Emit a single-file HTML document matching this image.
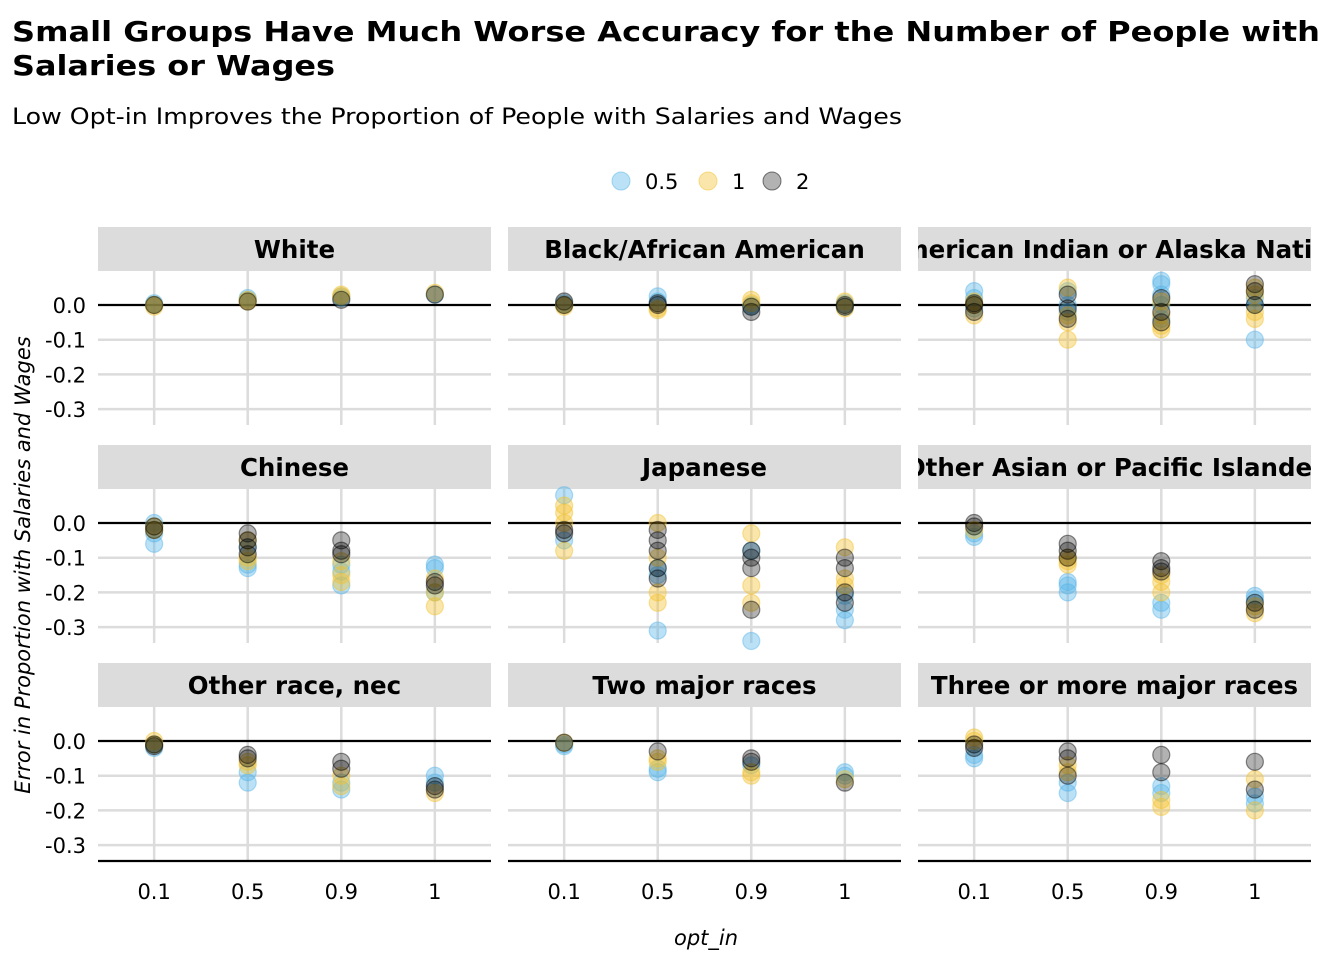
<!DOCTYPE html>
<html><head><meta charset="utf-8"><style>
body{margin:0;background:#fff;}
svg text{font-family:"DejaVu Sans","Liberation Sans",sans-serif;}
</style></head><body>
<svg id="c" width="1344" height="960" xmlns="http://www.w3.org/2000/svg">
<text x="12" y="41" font-size="28" font-weight="bold" textLength="1308" lengthAdjust="spacingAndGlyphs">Small Groups Have Much Worse Accuracy for the Number of People with</text>
<text x="12" y="75" font-size="28" font-weight="bold" textLength="323" lengthAdjust="spacingAndGlyphs">Salaries or Wages</text>
<text x="12" y="124" font-size="22" textLength="890" lengthAdjust="spacingAndGlyphs">Low Opt-in Improves the Proportion of People with Salaries and Wages</text>
<g>
<circle cx="621" cy="181" r="9" fill="#56B4E9" fill-opacity="0.4" stroke="#56B4E9" stroke-opacity="0.5"/>
<text x="645" y="189" font-size="21">0.5</text>
<circle cx="708" cy="181" r="9" fill="#F2C12E" fill-opacity="0.4" stroke="#F2C12E" stroke-opacity="0.5"/>
<text x="732" y="189" font-size="21">1</text>
<circle cx="772" cy="181" r="9" fill="#000" fill-opacity="0.3" stroke="#000" stroke-opacity="0.5"/>
<text x="796" y="189" font-size="21">2</text>
</g>
<text transform="translate(30,565) rotate(-90)" text-anchor="middle" font-size="21" font-style="italic">Error in Proportion with Salaries and Wages</text>
<text x="706" y="945" text-anchor="middle" font-size="21" font-style="italic">opt_in</text>
<g id="panels"></g>
</svg>
<script>
const facets=["White","Black/African American","American Indian or Alaska Native","Chinese","Japanese","Other Asian or Pacific Islander","Other race, nec","Two major races","Three or more major races"];
const categories=["0.1","0.5","0.9","1"];
const yTicks=[0,-0.1,-0.2,-0.3];
const yTickLabels=["0.0","-0.1","-0.2","-0.3"];
const seriesNames=["0.5","1","2"];
const blueVals=[
[[0,0.005],[0.02,0.015],[0.025,0.02],[0.03]],
[[0.005,0],[0.025,0.01],[0,-0.005],[-0.005,0.005]],
[[0.04,0.02,-0.01],[0.04,0,-0.02],[0.07,0.06,0.03,0,-0.04],[0.02,0,-0.1]],
[[-0.06,-0.03,0],[-0.13,-0.12,-0.07],[-0.18,-0.14,-0.12],[-0.12,-0.13,-0.2]],
[[0.08,-0.05],[-0.13,-0.31,-0.15],[-0.08,-0.34],[-0.25,-0.28,-0.21]],
[[-0.04,-0.03],[-0.2,-0.18,-0.17],[-0.25,-0.23],[-0.21,-0.22]],
[[-0.02,-0.01],[-0.12,-0.09],[-0.14,-0.12],[-0.1,-0.12]],
[[-0.015,-0.01],[-0.09,-0.08],[-0.07],[-0.09,-0.1]],
[[-0.04,-0.05],[-0.15,-0.12],[-0.13,-0.15],[-0.16,-0.18]]];
const yellowVals=[
[[0,-0.005],[0.01,0.015],[0.03,0.025],[0.035]],
[[0,-0.005],[-0.01,-0.015],[0.015,0.005],[0.01,-0.01]],
[[0.01,-0.03,0],[0.05,-0.05,-0.1,-0.03],[0.01,-0.03,-0.07,-0.06],[0.05,0.03,-0.02,-0.04]],
[[-0.02,-0.01],[-0.1,-0.11,-0.05],[-0.17,-0.15,-0.11],[-0.24,-0.2,-0.16]],
[[0.05,0.03,0,-0.08],[0,-0.1,-0.2,-0.23],[-0.03,-0.23,-0.18],[-0.07,-0.16,-0.18]],
[[-0.02],[-0.12,-0.1,-0.11],[-0.17,-0.2,-0.15],[-0.26,-0.24]],
[[0,-0.01],[-0.07,-0.06],[-0.13,-0.1],[-0.15]],
[[-0.005],[-0.06,-0.05],[-0.1,-0.09],[-0.11]],
[[0,0.01],[-0.09,-0.07],[-0.19,-0.17],[-0.2,-0.11]]];
const blackVals=[
[[0],[0.01],[0.015],[0.03]],
[[0.01,0],[0,0.005],[-0.02,-0.005],[0,-0.005]],
[[0,-0.02,0.005],[0.03,-0.01,-0.04],[0.02,-0.02,-0.05],[0.06,0.04,0]],
[[-0.01,-0.02],[-0.03,-0.05,-0.07,-0.09],[-0.05,-0.08,-0.09],[-0.17,-0.18]],
[[-0.02,-0.03],[-0.02,-0.05,-0.08,-0.16,-0.13],[-0.08,-0.13,-0.25,-0.1],[-0.1,-0.13,-0.2,-0.23]],
[[0,-0.01],[-0.06,-0.08,-0.1],[-0.11,-0.13,-0.14],[-0.23,-0.25]],
[[-0.01,-0.015],[-0.04,-0.05],[-0.06,-0.08],[-0.13,-0.14]],
[[-0.005],[-0.03],[-0.05,-0.06],[-0.12]],
[[-0.01,-0.02],[-0.03,-0.05,-0.1],[-0.04,-0.09],[-0.06,-0.14]]];
const NS="http://www.w3.org/2000/svg";
const root=document.getElementById('panels');
const colX=[98,508,918], rowY=[227,445,663], PW=393, stripH=44, plotH=154;
function mk(t,a,p){const e=document.createElementNS(NS,t);for(const k in a)e.setAttribute(k,a[k]);p.appendChild(e);return e;}
function xScale(i){return (i+0.6)/4.2*PW;}
function yScale(v){return 34+(-v)*347;}
const styles=[{f:"#56B4E9",o:0.4},{f:"#F2C12E",o:0.4},{f:"#000",o:0.3}];
const allVals=[blueVals,yellowVals,blackVals];
facets.forEach((name,fi)=>{
  const r=Math.floor(fi/3),c=fi%3;
  const g=mk('g',{transform:`translate(${colX[c]},${rowY[r]})`},root);
  
  
  const cp=mk('clipPath',{id:'clip'+fi},g);
  mk('rect',{x:0,y:0,width:PW,height:stripH},cp);
  const strip=mk('rect',{x:0,y:0,width:PW,height:stripH,fill:'#dcdcdc'},g);
  
  
  const st=mk('text',{x:PW/2,y:31,'text-anchor':'middle','font-size':'24.5','font-weight':'bold','clip-path':`url(#clip${fi})`},g);
  st.textContent=name;
  
  
  const p=mk('g',{transform:`translate(0,${stripH})`},g);
  yTicks.forEach((t,ti)=>{
    const y=yScale(t);
    if(t!==0){const l=mk('line',{x1:0,x2:PW,y1:y,y2:y,stroke:'#dcdcdc','stroke-width':2.5},p);
      }
    if(c===0){const tx=mk('text',{x:-12,y:y+8,'text-anchor':'end','font-size':'21'},p);tx.textContent=yTickLabels[ti];
      }
  });
  categories.forEach((cat,ci)=>{
    const x=xScale(ci);
    const l=mk('line',{x1:x,x2:x,y1:0,y2:plotH,stroke:'#dcdcdc','stroke-width':2.5},p);
    
    if(r===2){const tx=mk('text',{x:x,y:plotH+38,'text-anchor':'middle','font-size':'21'},p);tx.textContent=cat;
      }
  });
  const z=mk('line',{x1:0,x2:PW,y1:yScale(0),y2:yScale(0),stroke:'#000','stroke-width':2.2},p);
  
  if(r===2){const ax=mk('line',{x1:0,x2:PW,y1:plotH,y2:plotH,stroke:'#000','stroke-width':2.2},p);
    }
  allVals.forEach((sv,si)=>{
    sv[fi].forEach((vals,ci)=>{
      vals.forEach(v=>{
        const pt=mk('circle',{cx:xScale(ci),cy:yScale(v),r:8.5,fill:styles[si].f,'fill-opacity':styles[si].o,stroke:styles[si].f,'stroke-opacity':0.45,'stroke-width':1.2},p);
        
        
      });
    });
  });
});
</script>
</body></html>
